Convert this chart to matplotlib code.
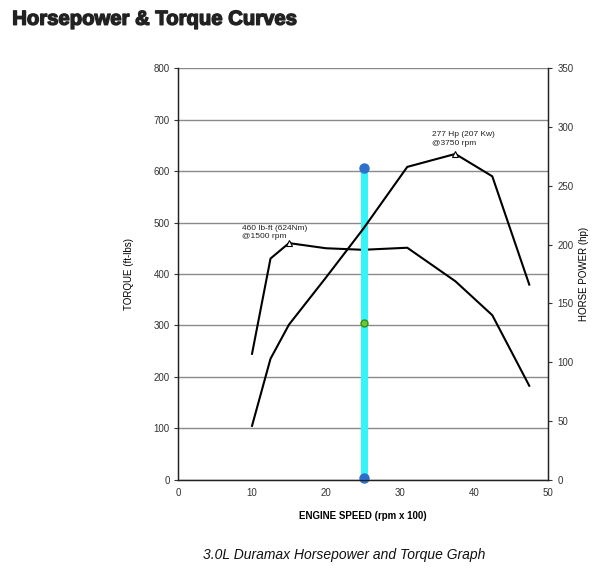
import matplotlib
matplotlib.use("Agg")
import matplotlib.pyplot as plt
import matplotlib.patheffects as pe

# ── Data ───────────────────────────────────────────────────────────────────
rpm_x100   = [10, 12.5, 15, 20, 25, 31, 37.5, 42.5, 47.5]
torque_ft  = [245, 430, 460, 450, 447, 451, 386, 320, 183]
horsepower = [46, 103, 132, 172, 213, 266, 277, 258, 166]

torque_peak = (15, 460)
hp_peak     = (37.5, 277)

cursor_x      = 25.2
cursor_top    = 605
cursor_mid    = 305
cursor_bottom = 3

x_ticks  = [0, 10, 20, 30, 40, 50]
tq_ticks = [0, 100, 200, 300, 400, 500, 600, 700, 800]
hp_ticks = [0, 50, 100, 150, 200, 250, 300, 350]

# ── Style ──────────────────────────────────────────────────────────────────
FONT  = "Liberation Sans"
GRID  = "#8a8a8a"
TICK  = "#333333"
CYAN  = "#33F5FA"
BLUE  = "#2F6FCC"
GREEN = "#66CC33"

plt.rcParams["font.family"] = FONT

fig = plt.figure(figsize=(6.12, 5.74), dpi=100)
fig.patch.set_facecolor("white")
ax = fig.add_axes([0.291, 0.1638, 0.604, 0.7177])
ax2 = ax.twinx()

ax.set_xlim(0, 50)
ax.set_ylim(0, 800)
ax2.set_ylim(0, 350)
ax.set_xticks(x_ticks)
ax.set_yticks(tq_ticks)
ax2.set_yticks(hp_ticks)

ax.grid(True, axis="y", color=GRID, linewidth=1.0)
ax.set_axisbelow(True)
for a in (ax, ax2):
    a.spines["top"].set_visible(False)
    for s in ("left", "right", "bottom"):
        a.spines[s].set_color("#222222")
        a.spines[s].set_linewidth(0.9)
ax.tick_params(axis="x", length=0, labelsize=7, colors=TICK, pad=6)
ax.tick_params(axis="y", length=3, labelsize=7, colors=TICK, pad=3)
ax2.tick_params(axis="y", length=3, labelsize=7, colors=TICK, pad=4)

# curves
ax.plot(rpm_x100, torque_ft, color="black", linewidth=1.5, zorder=3)
ax2.plot(rpm_x100, horsepower, color="black", linewidth=1.5, zorder=3)
ax.plot(*torque_peak, marker="^", markersize=5, markerfacecolor="white",
        markeredgecolor="black", markeredgewidth=0.8, zorder=4)
ax2.plot(*hp_peak, marker="^", markersize=5, markerfacecolor="white",
         markeredgecolor="black", markeredgewidth=0.8, zorder=4)

ax.annotate("460 lb-ft (624Nm)\n@1500 rpm", xy=torque_peak, xytext=(-34, 2),
            textcoords="offset points", fontsize=6, color="#222222",
            ha="left", va="bottom", linespacing=1.3)
ax2.annotate("277 Hp (207 Kw)\n@3750 rpm", xy=hp_peak, xytext=(-17, 5),
             textcoords="offset points", fontsize=6, color="#222222",
             ha="left", va="bottom", linespacing=1.3)

# cursor line
ax.plot([cursor_x, cursor_x], [cursor_bottom, cursor_top], color=CYAN,
        linewidth=5, solid_capstyle="butt", zorder=5)
ax.plot(cursor_x, cursor_top, "o", color=BLUE, markersize=6.5, zorder=6, clip_on=False)
ax.plot(cursor_x, cursor_bottom, "o", color=BLUE, markersize=6.5, zorder=6, clip_on=False)
ax.plot(cursor_x, cursor_mid, "o", color=GREEN, markeredgecolor="#3a8a1a",
        markersize=5, zorder=6)

ax.set_xlabel("ENGINE SPEED (rpm x 100)", fontsize=7, fontweight="bold", labelpad=9)
ax.set_ylabel("TORQUE (ft-lbs)", fontsize=7, labelpad=14)
ax2.set_ylabel("HORSE POWER (hp)", fontsize=7, labelpad=4)

fig.text(0.02, 0.983, "Horsepower & Torque Curves", fontsize=14.6,
         fontweight="bold", va="top", ha="left", color="#222222",
         path_effects=[pe.withStroke(linewidth=1.0, foreground="#222222")])
fig.text(0.563, 0.021, "3.0L Duramax Horsepower and Torque Graph", fontsize=10,
         style="italic", ha="center", va="bottom", color="#111111")

fig.savefig("out.png", dpi=100, facecolor="white")
